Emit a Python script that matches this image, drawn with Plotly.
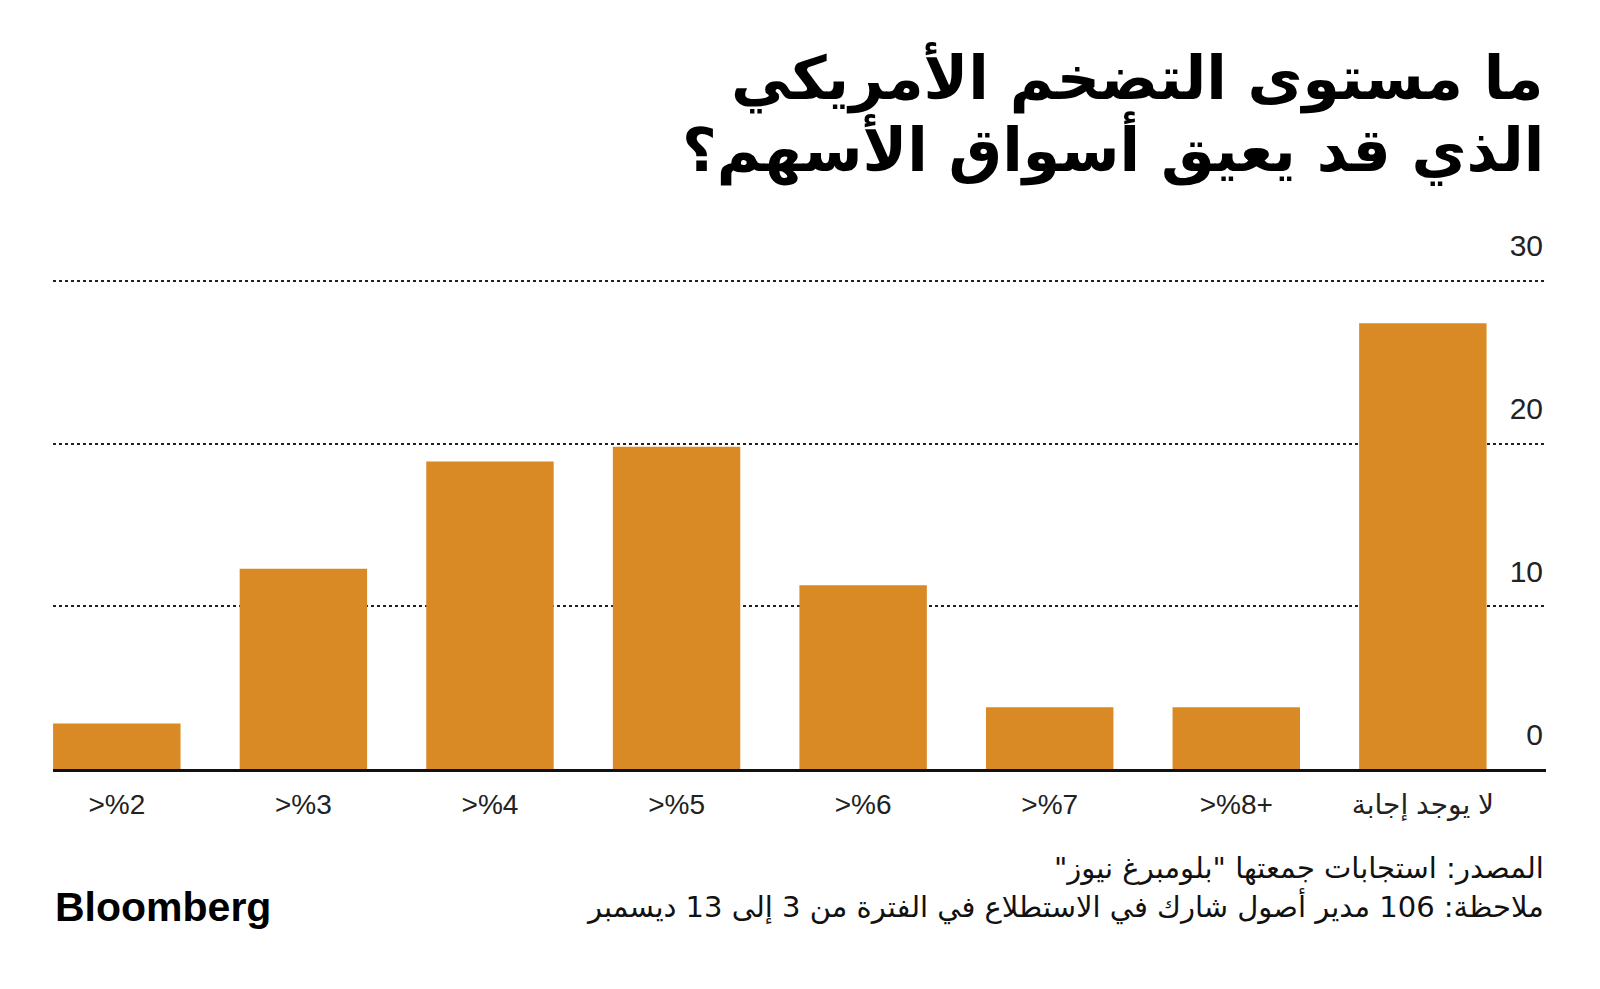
import plotly.graph_objects as go

categories = [">%2", ">%3", ">%4", ">%5", ">%6", ">%7", ">%8+", "لا يوجد إجابة"]
values = [2.8, 12.3, 18.9, 19.8, 11.3, 3.8, 3.8, 27.4]
y_ticks = [0, 10, 20, 30]

title_line1 = "ما مستوى التضخم الأمريكي"
title_line2 = "الذي قد يعيق أسواق الأسهم؟"
source_text = "\u200fالمصدر: استجابات جمعتها \"بلومبرغ نيوز\"\u200f"
note_text = "\u200fملاحظة: 106 مدير أصول شارك في الاستطلاع في الفترة من 3 إلى 13 ديسمبر\u200f"

W, H = 1600, 989
L, R = 53, 54
B = 219.5
Y_MAX = 30.3
unit_px = (769.5 - 280.6) / 30
plot_h = unit_px * Y_MAX
T = H - B - plot_h

def py(pix):
    return (H - B - pix) / plot_h

FONT = "Liberation Sans, DejaVu Sans, sans-serif"

fig = go.Figure()
fig.add_trace(go.Bar(
    x=list(range(len(categories))),
    y=values,
    marker=dict(color="#D98A24", line=dict(width=0)),
    width=0.683,
    hoverinfo="skip",
))

fig.update_layout(
    width=W, height=H,
    margin=dict(l=L, r=R, t=T, b=B),
    paper_bgcolor="white", plot_bgcolor="white",
    showlegend=False,
    font=dict(family=FONT, color="#222222"),
    xaxis=dict(
        range=[-0.342, 7.66],
        tickmode="array",
        tickvals=list(range(len(categories))),
        ticktext=categories,
        tickfont=dict(size=28, color="#222222"),
        showgrid=False, zeroline=False,
        showline=True, linecolor="#111111", linewidth=3,
        ticks="", ticklabelstandoff=8,
    ),
    yaxis=dict(
        range=[0, Y_MAX],
        tickmode="array",
        tickvals=y_ticks,
        ticktext=[str(v) for v in y_ticks],
        side="right",
        ticklabelposition="inside top",
        ticklabeloverflow="allow",
        ticklabelshift=-14,
        tickfont=dict(size=30, color="#222222"),
        showgrid=True, gridcolor="#222222", gridwidth=1.5, griddash="dot",
        zeroline=False, showline=False, ticks="",
    ),
)

fig.add_annotation(text=title_line1, xref="paper", yref="paper", x=1, y=py(77),
                   xanchor="right", yanchor="middle", showarrow=False,
                   font=dict(family="DejaVu Sans", size=60, color="#000000", weight="bold"))
fig.add_annotation(text=title_line2, xref="paper", yref="paper", x=1, y=py(148),
                   xanchor="right", yanchor="middle", showarrow=False,
                   font=dict(family="DejaVu Sans", size=60, color="#000000", weight="bold"))
fig.add_annotation(text=source_text, xref="paper", yref="paper", x=1, y=py(869),
                   xanchor="right", yanchor="middle", showarrow=False,
                   font=dict(family="DejaVu Sans", size=29, color="#111111"))
fig.add_annotation(text=note_text, xref="paper", yref="paper", x=1, y=py(907),
                   xanchor="right", yanchor="middle", showarrow=False,
                   font=dict(family="DejaVu Sans", size=29, color="#111111"))
fig.add_annotation(text="Bloomberg", xref="paper", yref="paper", x=0, y=py(908),
                   xanchor="left", yanchor="middle", showarrow=False,
                   font=dict(family="Liberation Sans", size=41, color="#000000", weight="bold"))

fig.write_html("out.html")
